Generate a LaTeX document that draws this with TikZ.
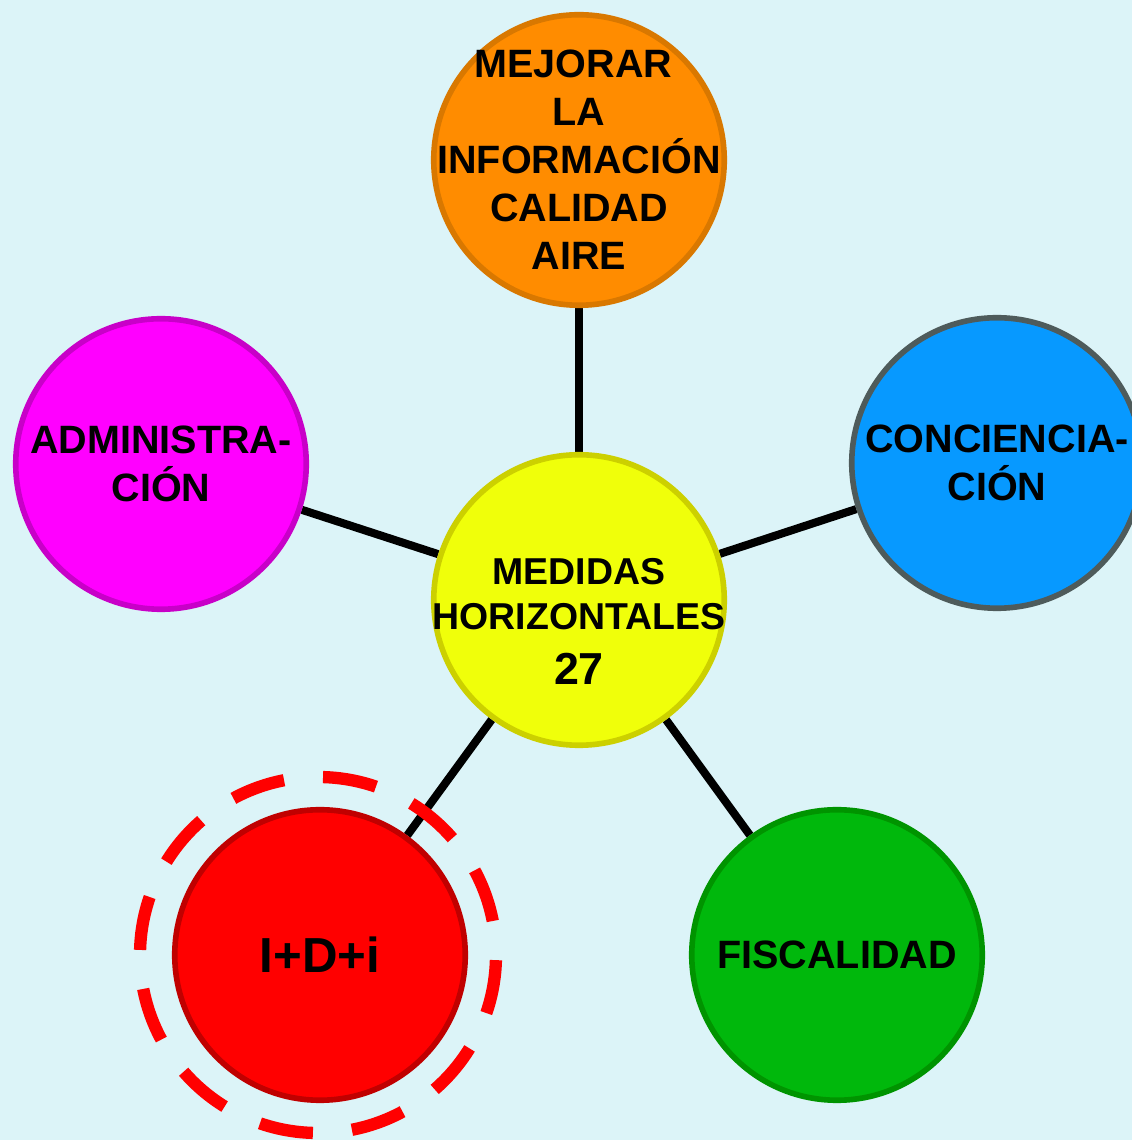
\documentclass[tikz,border=0pt]{standalone}
\usepackage{fontspec}
\setmainfont{Liberation Sans}
\usetikzlibrary{backgrounds}
\definecolor{skycyan}{HTML}{DCF4F8}
\definecolor{hubyellow}{HTML}{F0FF0A}
\definecolor{hubedge}{HTML}{CCD000}
\definecolor{infoorange}{HTML}{FF8C00}
\definecolor{infoedge}{HTML}{D97800}
\definecolor{adminpink}{HTML}{FF00FF}
\definecolor{adminedge}{HTML}{C800C8}
\definecolor{awareblue}{HTML}{0799FF}
\definecolor{awareedge}{HTML}{4E5B5B}
\definecolor{rndred}{HTML}{FF0000}
\definecolor{rndedge}{HTML}{C00000}
\definecolor{taxgreen}{HTML}{00B80C}
\definecolor{taxedge}{HTML}{009400}

\begin{document}
\begin{tikzpicture}[
  bubble/.style={circle, draw, line width=3.2pt, minimum size=5.81cm,
    inner sep=-2cm, align=center, font=\fontsize{22.5}{27.3}\selectfont\bfseries},
  link/.style={black, line width=4.6pt},
  ring/.style={rndred, line width=7pt,
    dash pattern={on 1.08cm off 0.784cm}, dash phase=1.18cm}
]

% Page frame
\useasboundingbox (0,0) rectangle (22.64,22.8);

% ── Coordinates ──
\coordinate (hubpos) at (11.58,10.8);
\coordinate (infopos) at (11.58,19.6);
\coordinate (adminpos) at (3.22,13.52);
\coordinate (awarepos) at (19.94,13.54);
\coordinate (rndpos) at (6.4,3.7);
\coordinate (taxpos) at (16.74,3.7);

% ── Central circle ──
\node[bubble, fill=hubyellow, draw=hubedge] (hub) at (hubpos) {};
\node[align=center, font=\fontsize{21.3}{25.6}\selectfont\bfseries]
  (hubtxt) at ([yshift=-0.43cm]hub.center)
  {MEDIDAS\\HORIZONTALES\\[5.7pt]{\fontsize{25.5}{31}\selectfont 27}};

% ── Outer circles ──
\node[bubble, fill=infoorange, draw=infoedge] (info) at (infopos)
  {MEJORAR\kern0.28em\\LA\\INFORMACIÓN\\CALIDAD\\AIRE};
\node[bubble, fill=adminpink, draw=adminedge] (admin) at (adminpos)
  {ADMINISTRA-\\CIÓN};
\node[bubble, fill=awareblue, draw=awareedge] (aware) at (awarepos)
  {CONCIENCIA-\\CIÓN};
\node[bubble, fill=rndred, draw=rndedge, font=\fontsize{28}{34}\selectfont\bfseries]
  (rnd) at (rndpos) {I+D+i};
\node[bubble, fill=taxgreen, draw=taxedge] (tax) at (taxpos) {FISCALIDAD};

% ── Background and spokes ──
\begin{scope}[on background layer]
  \fill[skycyan] (0,0) rectangle (22.64,22.8);
  \draw[link] (hub) -- (info);
  \draw[link] (hub) -- (admin);
  \draw[link] (hub) -- (aware);
  \draw[link] (hub) -- (rnd);
  \draw[link] (hub) -- (tax);
\end{scope}

% ── Dashed highlight round I+D+i ──
\draw[ring] ([xshift=-0.04cm]rnd.center) circle (3.56cm);

\end{tikzpicture}
\end{document}
